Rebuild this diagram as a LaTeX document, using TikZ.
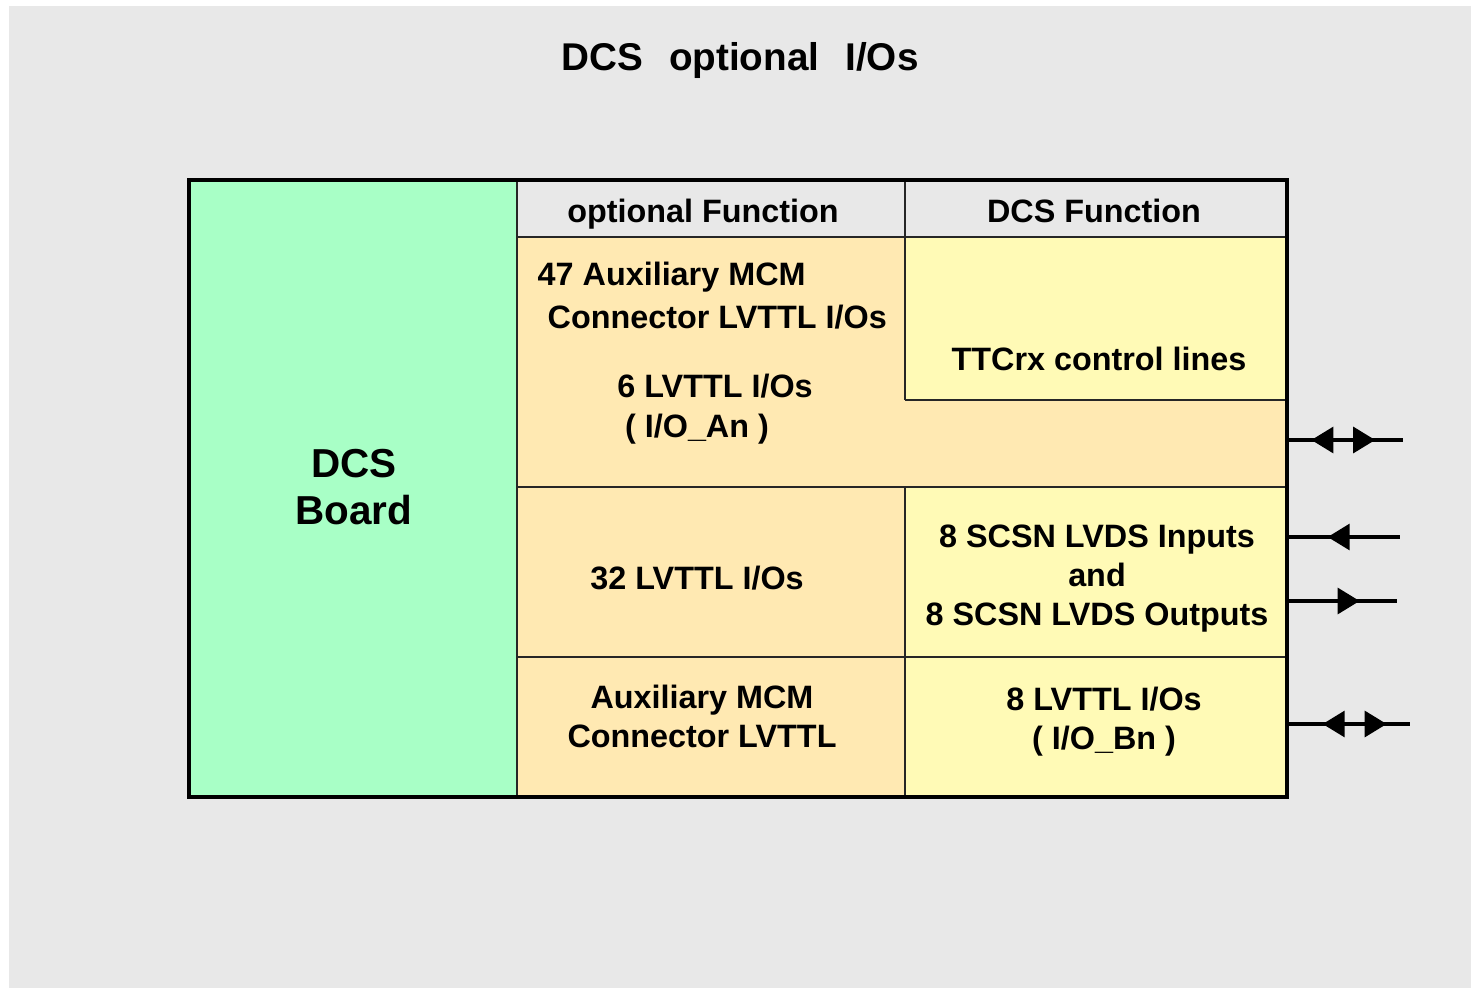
\documentclass[tikz,border=0pt]{standalone}
\usepackage{fontspec}
\setmainfont{Liberation Sans}
\usetikzlibrary{arrows.meta,decorations.markings}
\definecolor{bggray}{RGB}{232,232,232}
\definecolor{boardgreen}{RGB}{168,255,198}
\definecolor{optorange}{RGB}{255,233,178}
\definecolor{dcsyellow}{RGB}{255,250,182}
\tikzset{
  celltext/.style={font=\bfseries\fontsize{9.2}{11.1}\selectfont,align=center,inner sep=0pt},
  gridline/.style={line width=0.6pt,black!85},
  iowire/.style={line width=0.9pt},
  inhead/.style={postaction={decorate},decoration={markings,
      mark=at position #1 with {\arrowreversed{Triangle[length=2.2mm,width=2.6mm]}}}},
  outhead/.style={postaction={decorate},decoration={markings,
      mark=at position #1 with {\arrow{Triangle[length=2.2mm,width=2.6mm]}}}},
  bothheads/.style 2 args={postaction={decorate},decoration={markings,
      mark=at position #1 with {\arrowreversed{Triangle[length=2.2mm,width=2.6mm]}},
      mark=at position #2 with {\arrow{Triangle[length=2.2mm,width=2.6mm]}}}}
}
\begin{document}
\begin{tikzpicture}[x=0.01cm,y=-0.01cm]
  \useasboundingbox (0,0) rectangle (1473,988);
  \fill[white] (0,0) rectangle (1473,988);
  \fill[bggray] (9,6) rectangle (1471,988);
  \node[celltext,font=\bfseries\fontsize{11}{13}\selectfont,anchor=base] (title) at (740,71)
    {DCS\hspace{0.67em}optional\hspace{0.67em}I/Os};
  \fill[boardgreen] (189,180) rectangle (517,797);
  \fill[optorange] (517,237) rectangle (1287,797);
  \fill[dcsyellow] (905,237) rectangle (1287,400);
  \fill[dcsyellow] (905,487) rectangle (1287,797);
  \draw[gridline] (517,180) -- (517,797);
  \draw[gridline] (905,180) -- (905,400);
  \draw[gridline] (905,487) -- (905,797);
  \draw[gridline] (517,237) -- (1287,237);
  \draw[gridline] (905,400) -- (1287,400);
  \draw[gridline] (517,487) -- (1287,487);
  \draw[gridline] (517,657) -- (1287,657);
  \draw[line width=1.2pt] (189,180) rectangle (1287,797);
  \node[celltext,font=\bfseries\fontsize{11.5}{13.6}\selectfont] (board) at (354,487) {DCS\\Board};
  \node[celltext,anchor=base] (opthead) at (703,222) {optional Function};
  \node[celltext,anchor=base] (dcshead) at (1094,222) {DCS Function};
  \node[celltext,anchor=base west] (aux47) at (537,285) {47 Auxiliary MCM};
  \node[celltext,anchor=base west] (auxcon) at (547,328) {Connector LVTTL I/Os};
  \node[celltext,anchor=base] (lvttl6) at (715,397) {6 LVTTL I/Os};
  \node[celltext,anchor=base] (ioan) at (697,437) {( I/O\_An )};
  \node[celltext,anchor=base] (ttcrx) at (1099,370) {TTCrx control lines};
  \node[celltext,anchor=base] (lvttl32) at (697,589) {32 LVTTL I/Os};
  \node[celltext] (scsn) at (1097,579) {8 SCSN LVDS Inputs\\and\\8 SCSN LVDS Outputs};
  \node[celltext] (auxmcm) at (702,716) {Auxiliary MCM\\Connector LVTTL};
  \node[celltext] (lvttl8) at (1104,722) {8 LVTTL I/Os\\( I/O\_Bn )};
  \coordinate (ioa) at (1287,440);
  \coordinate (ioa end) at (1403,440);
  \coordinate (scsnin) at (1287,537);
  \coordinate (scsnin end) at (1400,537);
  \coordinate (scsnout) at (1287,601);
  \coordinate (scsnout end) at (1397,601);
  \coordinate (iob) at (1287,724);
  \coordinate (iob end) at (1410,724);
  \draw[iowire,bothheads={0.21}{0.76}] (ioa) -- (ioa end);
  \draw[iowire,inhead=0.36] (scsnin) -- (scsnin end);
  \draw[iowire,outhead=0.66] (scsnout) -- (scsnout end);
  \draw[iowire,bothheads={0.29}{0.81}] (iob) -- (iob end);
\end{tikzpicture}
\end{document}
